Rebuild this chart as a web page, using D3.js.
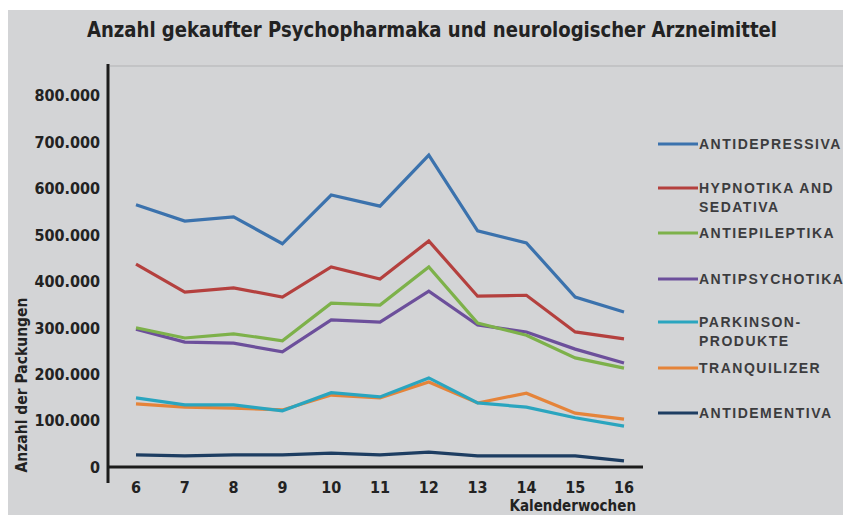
<!DOCTYPE html>
<html>
<head>
<meta charset="utf-8">
<script src="https://cdn.jsdelivr.net/npm/d3@7"></script>
<style>
  body { margin: 0; background: #fff; }
  svg { display: block; }
</style>
</head>
<body>
<svg id="chart" width="843" height="515"></svg>
<script>
// Kalenderwochen
const weeks = [6, 7, 8, 9, 10, 11, 12, 13, 14, 15, 16];
const yTicks = [0, 100000, 200000, 300000, 400000, 500000, 600000, 700000, 800000];

// Werte je Wirkstoffgruppe
const antidepressiva = [565000, 530000, 539000, 481000, 586000, 562000, 672000, 509000, 483000, 366000, 334000];
const hypnotika      = [437000, 377000, 386000, 366000, 431000, 405000, 487000, 368000, 370000, 291000, 276000];
const antiepileptika = [300000, 278000, 287000, 272000, 353000, 349000, 431000, 310000, 284000, 235000, 213000];
const antipsychotika = [297000, 269000, 267000, 248000, 317000, 312000, 379000, 306000, 291000, 254000, 224000];
const parkinson      = [149000, 134000, 134000, 121000, 160000, 151000, 192000, 138000, 129000, 106000, 88000];
const tranquilizer   = [136000, 129000, 127000, 123000, 155000, 149000, 183000, 138000, 159000, 116000, 103000];
const antidementiva  = [26000, 24000, 26000, 26000, 30000, 26000, 32000, 24000, 24000, 24000, 13000];

const series = [
  { name: ["ANTIDEPRESSIVA"], values: antidepressiva, color: "#3b72ad" },
  { name: ["HYPNOTIKA AND", "SEDATIVA"], values: hypnotika, color: "#b4403e" },
  { name: ["ANTIEPILEPTIKA"], values: antiepileptika, color: "#7db14a" },
  { name: ["ANTIPSYCHOTIKA"], values: antipsychotika, color: "#6c4f9b" },
  { name: ["PARKINSON-", "PRODUKTE"], values: parkinson, color: "#2aa5bf" },
  { name: ["TRANQUILIZER"], values: tranquilizer, color: "#e5843a" },
  { name: ["ANTIDEMENTIVA"], values: antidementiva, color: "#1d3d62" }
];
// legend rows (y of the swatch)
const legendY = [144, 188, 233, 279, 322, 368, 413];

const svg = d3.select("#chart");
const fmt = d3.format(",d");
const de = v => fmt(v).replace(/,/g, ".");

svg.append("rect")
  .attr("x", 8).attr("y", 10)
  .attr("width", 835).attr("height", 505)
  .attr("fill", "#d3d4d6");

svg.append("text")
  .attr("x", 432).attr("y", 37)
  .attr("text-anchor", "middle")
  .attr("font-family", "DejaVu Sans Condensed, DejaVu Sans")
  .attr("font-weight", "bold")
  .attr("font-size", 21)
  .attr("textLength", 690)
  .attr("lengthAdjust", "spacingAndGlyphs")
  .attr("fill", "#222")
  .text("Anzahl gekaufter Psychopharmaka und neurologischer Arzneimittel");

const x = d3.scaleLinear().domain([6, 16]).range([136, 624]);
const y = d3.scaleLinear().domain([0, 864000]).range([467, 66]);

// obere Begrenzung
svg.append("line")
  .attr("x1", 110).attr("x2", 843)
  .attr("y1", y(864000)).attr("y2", y(864000))
  .attr("stroke", "#b2b3b5").attr("stroke-width", 1);

// y axis labels
svg.append("g").selectAll("text")
  .data(yTicks)
  .join("text")
  .attr("x", 100)
  .attr("y", d => y(d))
  .attr("dy", "0.36em")
  .attr("text-anchor", "end")
  .attr("font-family", "DejaVu Sans Condensed, DejaVu Sans")
  .attr("font-weight", "bold")
  .attr("font-size", 16)
  .attr("fill", "#222")
  .text(d => de(d));

svg.append("g").selectAll("text")
  .data(weeks)
  .join("text")
  .attr("x", d => x(d))
  .attr("y", 493)
  .attr("text-anchor", "middle")
  .attr("font-family", "DejaVu Sans Condensed, DejaVu Sans")
  .attr("font-weight", "bold")
  .attr("font-size", 16)
  .attr("fill", "#222")
  .text(d => d);

svg.append("text")
  .attr("x", 636).attr("y", 511)
  .attr("text-anchor", "end")
  .attr("font-family", "DejaVu Sans Condensed, DejaVu Sans")
  .attr("font-weight", "bold")
  .attr("font-size", 15)
  .attr("fill", "#222")
  .text("Kalenderwochen");

svg.append("text")
  .attr("transform", "translate(27,385) rotate(-90)")
  .attr("text-anchor", "middle")
  .attr("font-family", "DejaVu Sans Condensed, DejaVu Sans")
  .attr("font-weight", "bold")
  .attr("font-size", 15)
  .attr("textLength", 175)
  .attr("lengthAdjust", "spacingAndGlyphs")
  .attr("fill", "#222")
  .text("Anzahl der Packungen");

// lines
const line = d3.line()
  .x((d, i) => x(weeks[i]))
  .y(d => y(d));

svg.append("g").selectAll("path")
  .data(series.slice().reverse())
  .join("path")
  .attr("d", d => line(d.values))
  .attr("fill", "none")
  .attr("stroke", d => d.color)
  .attr("stroke-width", 3.2)
  .attr("stroke-linejoin", "miter");

// axes
svg.append("line")
  .attr("x1", 108).attr("x2", 108)
  .attr("y1", 64).attr("y2", 483)
  .attr("stroke", "#1c1c1c").attr("stroke-width", 3);
svg.append("line")
  .attr("x1", 107).attr("x2", 643)
  .attr("y1", y(0)).attr("y2", y(0))
  .attr("stroke", "#1c1c1c").attr("stroke-width", 3);

// legend
const leg = svg.append("g").selectAll("g")
  .data(series)
  .join("g")
  .attr("transform", (d, i) => `translate(658,${legendY[i]})`);

leg.append("line")
  .attr("x1", 0).attr("x2", 40)
  .attr("stroke", d => d.color)
  .attr("stroke-width", 3.2);

leg.append("text")
  .attr("font-family", "Liberation Sans, Arial")
  .attr("font-weight", "bold")
  .attr("font-size", 14)
  .attr("letter-spacing", 1.5)
  .attr("fill", "#3c3c3e")
  .selectAll("tspan")
  .data(d => d.name)
  .join("tspan")
  .attr("x", 41)
  .attr("y", (d, i) => 5 + i * 19)
  .text(d => d);
</script>
</body>
</html>
